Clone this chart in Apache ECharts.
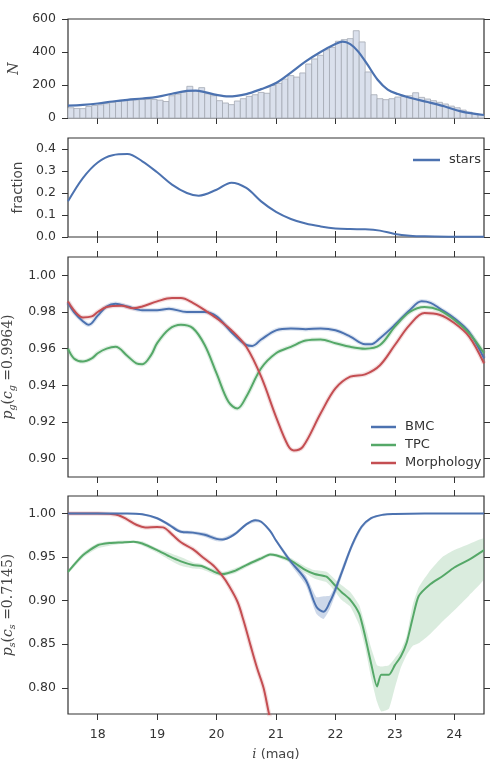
<!DOCTYPE html>
<html><head><meta charset="utf-8">
<script src="https://cdn.jsdelivr.net/npm/echarts@6/dist/echarts.min.js"></script>
<style>html,body{margin:0;padding:0;background:#fff}#c{width:498px;height:759px}</style>
</head><body><div id="c"></div><script>
// ---------- data ----------
const xTicks = [18, 19, 20, 21, 22, 23, 24];
const nTicks = [0, 200, 400, 600];
const fracTicks = [0.0, 0.1, 0.2, 0.3, 0.4];
const pgTicks = [0.90, 0.92, 0.94, 0.96, 0.98, 1.00];
const psTicks = [0.80, 0.85, 0.90, 0.95, 1.00];

const binEdges = [17.5,17.6,17.7,17.8,17.9,18.0,18.1,18.2,18.3,18.4,18.5,18.6,18.7,18.8,18.9,19.0,19.1,19.2,19.3,19.4,
  19.5,19.6,19.7,19.8,19.9,20.0,20.1,20.2,20.3,20.4,20.5,20.6,20.7,20.8,20.9,21.0,21.1,21.2,21.3,21.4,
  21.5,21.6,21.7,21.8,21.9,22.0,22.1,22.2,22.3,22.4,22.5,22.6,22.7,22.8,22.9,23.0,23.1,23.2,23.3,23.4,
  23.5,23.6,23.7,23.8,23.9,24.0,24.1,24.2,24.3,24.4,24.5];
const binCounts = [62,58,57,70,76,80,87,95,100,105,108,110,112,113,112,108,100,135,145,157,
  192,166,184,147,135,105,91,81,103,117,131,141,155,150,198,210,236,257,248,273,
  327,358,380,414,428,465,475,481,529,461,279,141,117,111,117,127,131,135,153,125,
  115,105,95,85,72,62,48,35,27,20];

const kdeX = [17.5,17.75,18.0,18.25,18.5,18.75,19.0,19.25,19.5,19.65,19.8,20.0,20.2,20.5,20.75,21.0,21.25,21.5,21.75,22.0,22.12,22.25,22.38,22.54,22.71,22.88,23.05,23.27,23.55,23.83,24.11,24.5];
const kdeY = [75,80,88,100,110,118,128,147,164,166,157,140,131,145,175,212,275,343,400,448,463,448,404,323,232,172,145,121,97,71,40,18];

const fracX = [17.5,17.75,18.0,18.25,18.5,18.75,19.0,19.25,19.5,19.7,20.0,20.25,20.5,20.75,21.0,21.25,21.5,21.75,22.0,22.25,22.5,22.75,23.0,23.25,23.5,24.0,24.5];
const fracY = [0.162,0.268,0.339,0.372,0.377,0.344,0.294,0.238,0.200,0.188,0.215,0.247,0.223,0.162,0.114,0.082,0.061,0.048,0.039,0.036,0.035,0.029,0.014,0.006,0.003,0.0015,0.001];

const bmcGX = [17.5,17.6,17.75,17.85,18.0,18.15,18.3,18.5,18.75,19.0,19.2,19.5,19.8,20.0,20.25,20.5,20.6,20.75,21.0,21.25,21.5,21.75,22.0,22.25,22.5,22.6,22.75,23.0,23.25,23.45,23.6,23.75,24.0,24.25,24.5];
const bmcGY = [0.985,0.980,0.975,0.973,0.978,0.983,0.9845,0.983,0.981,0.981,0.9818,0.980,0.980,0.9776,0.969,0.962,0.9615,0.965,0.970,0.971,0.9706,0.971,0.970,0.9666,0.9624,0.9624,0.9657,0.973,0.981,0.9858,0.985,0.982,0.9766,0.969,0.9547];
const tpcGX = [17.5,17.6,17.75,17.9,18.0,18.15,18.3,18.5,18.65,18.75,18.9,19.0,19.2,19.4,19.6,19.8,20.0,20.2,20.35,20.5,20.75,21.0,21.25,21.5,21.75,22.0,22.25,22.5,22.75,23.0,23.25,23.5,23.75,24.0,24.25,24.5];
const tpcGY = [0.960,0.9547,0.953,0.9547,0.9575,0.960,0.961,0.956,0.952,0.9515,0.9566,0.963,0.9706,0.973,0.9712,0.962,0.9465,0.931,0.9274,0.9338,0.9493,0.9575,0.961,0.9644,0.965,0.963,0.961,0.960,0.962,0.972,0.980,0.9827,0.981,0.9757,0.9684,0.9575];
const morGX = [17.5,17.75,17.9,18.0,18.15,18.4,18.6,18.75,19.0,19.25,19.4,19.6,19.8,20.0,20.25,20.5,20.75,21.0,21.2,21.3,21.45,21.75,22.0,22.25,22.5,22.75,23.0,23.25,23.5,23.75,24.0,24.25,24.5];
const morGY = [0.9858,0.977,0.9776,0.980,0.9827,0.9834,0.982,0.983,0.9858,0.9876,0.9876,0.985,0.981,0.9766,0.970,0.961,0.9447,0.9228,0.9073,0.9045,0.9064,0.9246,0.9383,0.9447,0.946,0.951,0.962,0.973,0.9794,0.9785,0.974,0.9666,0.952];

const bmcSX = [17.5,18.0,18.5,18.75,19.0,19.2,19.4,19.6,19.8,20.0,20.1,20.3,20.5,20.65,20.75,20.9,21.0,21.25,21.5,21.68,21.8,21.91,22.0,22.11,22.28,22.44,22.6,22.8,23.0,23.5,24.0,24.5];
const bmcSY = [1.0,1.0,1.0,0.999,0.9945,0.987,0.979,0.978,0.9755,0.9708,0.970,0.976,0.9875,0.9922,0.9905,0.980,0.969,0.9446,0.9236,0.893,0.8874,0.899,0.913,0.933,0.9637,0.9847,0.9945,0.9985,0.9995,1.0,1.0,1.0];
const bmcSLo = [1.0,1.0,0.999,0.998,0.993,0.985,0.977,0.976,0.973,0.968,0.968,0.974,0.986,0.990,0.989,0.978,0.967,0.941,0.918,0.885,0.879,0.891,0.907,0.928,0.960,0.982,0.993,0.998,0.999,1.0,1.0,1.0];
const bmcSHi = [1.0,1.0,1.0,1.0,0.996,0.989,0.981,0.980,0.978,0.973,0.972,0.978,0.989,0.994,0.992,0.982,0.971,0.948,0.929,0.904,0.905,0.906,0.918,0.938,0.967,0.987,0.996,0.999,1.0,1.0,1.0,1.0];

const tpcSX = [17.5,17.75,18.0,18.2,18.4,18.6,18.75,19.0,19.2,19.4,19.6,19.75,20.0,20.1,20.3,20.5,20.75,20.9,21.0,21.25,21.5,21.65,21.85,22.0,22.1,22.25,22.4,22.5,22.6,22.7,22.77,22.9,23.0,23.1,23.2,23.3,23.4,23.6,23.8,24.0,24.25,24.5];
const tpcSY = [0.933,0.952,0.9635,0.966,0.9668,0.9676,0.9656,0.958,0.951,0.945,0.9408,0.9397,0.932,0.9305,0.934,0.9408,0.9485,0.953,0.952,0.9458,0.935,0.9305,0.9275,0.917,0.910,0.901,0.885,0.859,0.828,0.8015,0.815,0.815,0.826,0.836,0.852,0.880,0.905,0.919,0.928,0.938,0.947,0.958];
const tpcSLo = [0.931,0.949,0.960,0.963,0.965,0.966,0.963,0.955,0.947,0.940,0.937,0.936,0.929,0.928,0.931,0.938,0.946,0.951,0.950,0.943,0.931,0.925,0.921,0.910,0.901,0.893,0.872,0.846,0.812,0.784,0.773,0.776,0.800,0.823,0.838,0.848,0.851,0.862,0.876,0.889,0.906,0.925];
const tpcSHi = [0.935,0.955,0.966,0.968,0.969,0.969,0.968,0.960,0.955,0.950,0.944,0.942,0.935,0.933,0.937,0.943,0.951,0.955,0.954,0.949,0.939,0.935,0.933,0.924,0.918,0.910,0.895,0.872,0.846,0.826,0.8245,0.826,0.834,0.843,0.860,0.895,0.915,0.935,0.950,0.958,0.965,0.971];

const morSX = [17.5,18.0,18.2,18.35,18.5,18.65,18.8,19.0,19.1,19.25,19.4,19.6,19.8,19.95,20.1,20.2,20.35,20.45,20.57,20.68,20.79,20.88,20.95];
const morSY = [1.0,1.0,0.9995,0.998,0.993,0.987,0.984,0.9845,0.984,0.976,0.967,0.959,0.948,0.940,0.928,0.918,0.899,0.878,0.849,0.823,0.800,0.771,0.752];

// ---------- chart ----------
const C = {blue:'#4C72B0', green:'#55A868', red:'#C44E52', txt:'#333', lab:'#444'};
const FONT = 'DejaVu Sans';
const zip = (a, b) => a.map((v, i) => [v, b[i]]);

const gridDefs = [{top:19,height:99},{top:138,height:99},{top:257,height:220},{top:496,height:218}];
const grid = gridDefs.map(g => ({left:68, right:14, top:g.top, height:g.height, show:true,
  borderColor:'#333', borderWidth:1.2, backgroundColor:'transparent', containLabel:false, outerBoundsMode:'none'}));

const tick = vals => ({show:true, inside:false, length:6, customValues:vals, lineStyle:{color:'#333', width:1}});
const xAxis = [];
grid.forEach((g, gi) => {
  const last = gi === 3;
  xAxis.push({type:'value', gridIndex:gi, position:'bottom', min:17.5, max:24.5,
    axisLine:{show:false}, splitLine:{show:false}, axisTick:tick(xTicks),
    axisLabel:{show:last, customValues:xTicks, margin:14, fontSize:12.5, color:C.txt, fontFamily:FONT},
    name: last ? '{i|i}{n| (mag)}' : '', nameLocation:'middle', nameGap:34,
    nameTextStyle:{rich:{
      i:{fontFamily:'DejaVu Serif', fontStyle:'italic', fontSize:13, color:C.lab},
      n:{fontFamily:FONT, fontSize:13, color:C.lab}}}});
  xAxis.push({type:'value', gridIndex:gi, position:'top', min:17.5, max:24.5,
    axisLine:{show:false}, splitLine:{show:false}, axisTick:tick(xTicks), axisLabel:{show:false}});
});

const richMath = {
  i:{fontFamily:'DejaVu Serif', fontStyle:'italic', fontSize:14, color:C.lab, lineHeight:18, verticalAlign:'middle'},
  s:{fontFamily:'DejaVu Serif', fontStyle:'italic', fontSize:9.5, color:C.lab, lineHeight:18, verticalAlign:'bottom'},
  n:{fontFamily:'DejaVu Serif', fontSize:14, color:C.lab, lineHeight:18, verticalAlign:'middle'}
};
const yDefs = [
  {min:0, max:600, ticks:nTicks, fmt:v => String(Math.round(v)), name:'{i|N}', gap:43},
  {min:0, max:0.45, ticks:fracTicks, fmt:v => v.toFixed(1), name:'fraction', gap:39},
  {min:0.89, max:1.01, ticks:pgTicks, fmt:v => v.toFixed(2), name:'{i|p}{s|g}{n|(}{i|c}{s|g}{n| =0.9964)}', gap:45},
  {min:0.77, max:1.02, ticks:psTicks, fmt:v => v.toFixed(2), name:'{i|p}{s|s}{n|(}{i|c}{s|s}{n| =0.7145)}', gap:45}
];
const yAxis = [];
yDefs.forEach((d, gi) => {
  yAxis.push({type:'value', gridIndex:gi, position:'left', min:d.min, max:d.max,
    axisLine:{show:false}, splitLine:{show:false}, axisTick:tick(d.ticks),
    axisLabel:{customValues:d.ticks, formatter:d.fmt, margin:12, fontSize:12.5, color:C.txt, fontFamily:FONT},
    name:d.name, nameLocation:'middle', nameGap:d.gap,
    nameTextStyle: gi === 1 ? {fontFamily:FONT, fontSize:13.5, color:C.lab} : {rich:richMath}});
  yAxis.push({type:'value', gridIndex:gi, position:'right', min:d.min, max:d.max,
    axisLine:{show:false}, splitLine:{show:false}, axisTick:tick(d.ticks), axisLabel:{show:false}});
});

// g = panel index; left/bottom axes of panel g have index 2*g
const line = (name, xs, ys, color, g, extra) => Object.assign({
  type:'line', name, data:zip(xs, ys), xAxisIndex:2 * g, yAxisIndex:2 * g, symbol:'none', smooth:0.35,
  color, itemStyle:{color}, lineStyle:{color, width:2}, silent:true, animation:false, z:5
}, extra || {});
const halo = (xs, ys, color, g) => line('_halo', xs, ys, color, g,
  {lineStyle:{color, width:4.5, opacity:0.18}, z:3});
const band = (xs, lo, hi, color, g) => ({
  type:'custom', name:'_band', xAxisIndex:2 * g, yAxisIndex:2 * g, silent:true, animation:false, z:2,
  data: xs.map((x, i) => [x, lo[i], hi[i]]),
  encode:{x:0, y:[1, 2]},
  renderItem:(params, api) => {
    if (params.dataIndex !== 0) return null;
    const up = xs.map((x, i) => api.coord([x, hi[i]]));
    const dn = xs.map((x, i) => api.coord([x, lo[i]])).reverse();
    const cs = params.coordSys;
    return {type:'polygon', shape:{points:up.concat(dn), smooth:0.15}, style:{fill:color},
      clipPath:{type:'rect', shape:{x:cs.x, y:cs.y, width:cs.width, height:cs.height}}};
  }
});

const series = [
  {type:'custom', name:'hist', xAxisIndex:0, yAxisIndex:0, silent:true, animation:false, z:1,
   data: binCounts.map((c, i) => [binEdges[i], binEdges[i + 1], c]),
   encode:{x:[0, 1], y:2},
   renderItem:(params, api) => {
     const p0 = api.coord([api.value(0), api.value(2)]);
     const p1 = api.coord([api.value(1), 0]);
     return {type:'rect', shape:{x:p0[0], y:p0[1], width:p1[0] - p0[0], height:p1[1] - p0[1]},
       style:{fill:'#dae0ec', stroke:'#a4a9b4', lineWidth:0.8}};
   }},
  line('kde', kdeX, kdeY, C.blue, 0, {lineStyle:{color:C.blue, width:2.2}}),
  line('stars', fracX, fracY, C.blue, 1),
  halo(bmcGX, bmcGY, C.blue, 2), halo(tpcGX, tpcGY, C.green, 2), halo(morGX, morGY, C.red, 2),
  line('BMC', bmcGX, bmcGY, C.blue, 2),
  line('TPC', tpcGX, tpcGY, C.green, 2),
  line('Morphology', morGX, morGY, C.red, 2),
  band(tpcSX, tpcSLo, tpcSHi, 'rgba(85,168,104,0.22)', 3),
  band(bmcSX, bmcSLo, bmcSHi, 'rgba(76,114,176,0.28)', 3),
  halo(morSX, morSY, C.red, 3),
  line('TPC', tpcSX, tpcSY, C.green, 3, {smooth:0.2}),
  line('Morphology', morSX, morSY, C.red, 3),
  line('BMC', bmcSX, bmcSY, C.blue, 3)
];

const legText = {fontSize:13, color:C.txt, fontFamily:FONT, lineHeight:16, padding:[0,0,0,4]};
const option = {
  animation:false,
  backgroundColor:'#fff',
  grid, xAxis, yAxis, series,
  legend:[
    {data:['stars'], left:408, top:147, orient:'vertical', icon:'rect', itemWidth:27, itemHeight:2.5,
     selectedMode:false, textStyle:legText},
    {data:['BMC', 'TPC', 'Morphology'], left:366, top:414, orient:'vertical', icon:'rect', itemWidth:25,
     itemHeight:2.5, itemGap:2, selectedMode:false, textStyle:legText}
  ]
};
const chart = echarts.init(document.getElementById('c'), null, {renderer:'canvas'});
chart.setOption(option);
</script></body></html>
